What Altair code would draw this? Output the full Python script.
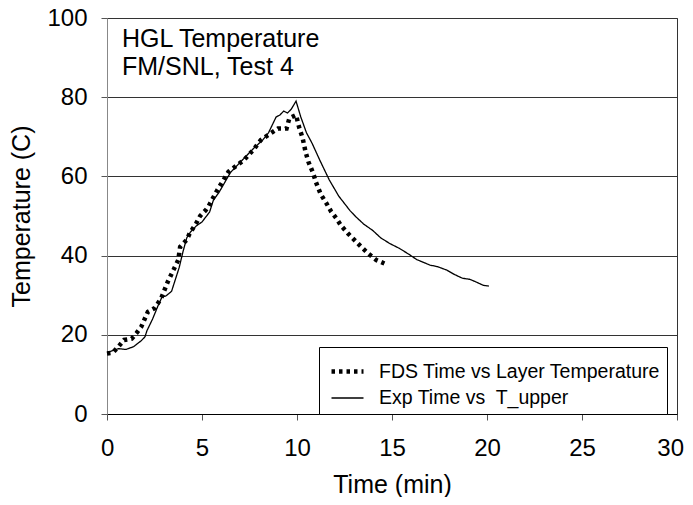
import altair as alt
import pandas as pd

# Experimental upper-layer temperature (solid line)
exp_time = [0, 0.3, 0.6, 1.0, 1.4, 1.8, 2.0, 2.1, 2.4, 2.7, 2.9, 3.1, 3.4, 3.6, 3.8,
            4.0, 4.2, 4.4, 4.7, 5.0, 5.4, 5.6, 5.9, 6.2, 6.5, 6.9, 7.3, 7.7, 8.2,
            8.5, 8.9, 9.1, 9.3, 9.5, 9.7, 9.95, 10.2, 10.5, 10.8, 11.2, 11.7, 12.2,
            12.8, 13.1, 13.5, 14.0, 14.4, 14.9, 15.4, 15.9, 16.3, 17.0, 17.4, 17.9,
            18.3, 18.7, 19.1, 19.4, 19.8, 20.1]
exp_temp = [15.5, 16, 16.5, 16.3, 17, 18.5, 19.5, 21, 24, 27.5, 29.6, 29.8, 31, 34, 37,
            41, 44.5, 46, 47.5, 48.5, 51, 54, 56, 58.5, 61, 63, 65, 67, 69.2,
            71, 75, 75.5, 76.5, 76, 77, 79, 75, 71, 68.3, 64.1, 59.1, 55,
            51.3, 49.8, 48, 46.3, 44.5, 43, 41.8, 40.3, 39, 37.6, 37.2, 36.3,
            35.2, 34.3, 34, 33.4, 32.5, 32.3]

# FDS layer temperature (dotted line)
fds_time = [0, 0.3, 0.6, 0.9, 1.3, 1.55, 1.8, 2.15, 2.5, 2.85, 3.2, 3.5, 3.75, 3.85,
            4.2, 4.35, 4.7, 4.9, 5.2, 5.35, 5.8, 6.4, 7.2, 7.7, 8.1, 8.5, 9.0, 9.45,
            9.6, 9.95, 10.1, 10.3, 10.45, 10.6, 10.85, 11.0, 11.25, 11.55, 11.8,
            12.07, 12.33, 12.68, 13.03, 13.38, 13.73, 14.17, 14.6]
fds_temp = [15.3, 15.5, 17, 18.7, 19, 20.4, 22, 25.8, 26.7, 29.2, 33.4, 36.4, 38.9, 42.2,
            44, 45.6, 48.2, 50, 51.5, 52.5, 56.5, 61.2, 64.1, 66.7, 69.2, 70.5, 72.1, 72.1,
            74.7, 75.5, 72.6, 69.6, 66.2, 63.7, 60.8, 58.5, 55.5, 53.2, 51.1,
            49.4, 47.5, 45.6, 43.9, 42.2, 40.6, 38.9, 38]

series_names = ["FDS Time vs Layer Temperature", "Exp Time vs\u00a0 T_upper"]
x_ticks = [0, 5, 10, 15, 20, 25, 30]
y_ticks = [0, 20, 40, 60, 80, 100]
title_lines = ["HGL Temperature", "FM/SNL, Test 4"]

rows = []
for i, (t, v) in enumerate(zip(fds_time, fds_temp)):
    rows.append({"series": series_names[0], "time": t, "temp": v, "idx": i})
for i, (t, v) in enumerate(zip(exp_time, exp_temp)):
    rows.append({"series": series_names[1], "time": t, "temp": v, "idx": i})
df = pd.DataFrame(rows)

FONT = "Liberation Sans"

legend = alt.Legend(
    title=None, orient="none", legendX=212, legendY=329,
    fillColor="white", strokeColor="black", padding=6,
    labelFontSize=19.5, labelFont=FONT, labelColor="black", labelLimit=400,
    symbolSize=1024, symbolStrokeColor="black", symbolOffset=4,
    rowPadding=-11, labelOffset=13,
)

lines = alt.Chart(df).mark_line(color="black").encode(
    x=alt.X("time:Q", title="Time (min)",
            scale=alt.Scale(domain=[0, 30], nice=False),
            axis=alt.Axis(values=x_ticks, grid=False, domainColor="black",
                          tickColor="#555", tickSize=6, labelPadding=35,
                          labelBaseline="alphabetic", labelFontSize=24,
                          labelFlush=True, labelFlushOffset=6.5,
                          titleFontSize=25, titleX=285, titleY=78,
                          titleBaseline="alphabetic")),
    y=alt.Y("temp:Q", title="Temperature (C)",
            scale=alt.Scale(domain=[0, 100], nice=False),
            axis=alt.Axis(values=y_ticks, grid=True, gridColor="#333",
                          domainColor="#888", tickColor="#555", tickSize=6,
                          labelPadding=14, labelFontSize=24, labelFlush=False,
                          titleFontSize=25, titleX=-86, titleY=198,
                          titleBaseline="middle", titleAngle=-90)),
    strokeDash=alt.StrokeDash("series:N",
                              scale=alt.Scale(domain=series_names,
                                              range=[[3.5, 4], [1, 0]]),
                              legend=legend),
    strokeWidth=alt.StrokeWidth("series:N",
                                scale=alt.Scale(domain=series_names, range=[4.5, 1.3]),
                                legend=legend),
    order="idx:Q",
)

title = alt.Chart(pd.DataFrame({"a": [0]})).mark_text(
    align="left", baseline="alphabetic", fontSize=25, font=FONT,
    color="black", lineHeight=28
).encode(x=alt.value(15), y=alt.value(29), text=alt.value(title_lines))

chart = alt.layer(lines, title).properties(
    width=570, height=396,
    autosize=alt.AutoSizeParams(type="none"),
    padding={"left": 99, "top": 10, "right": 8, "bottom": 83},
).configure(font=FONT).configure_axis(
    labelFont=FONT, titleFont=FONT, labelColor="black", titleColor="black",
    titleFontWeight="normal",
).configure_view(stroke="#333", strokeWidth=1)

chart.save("out.html", embed_options={"renderer": "svg", "actions": False})
